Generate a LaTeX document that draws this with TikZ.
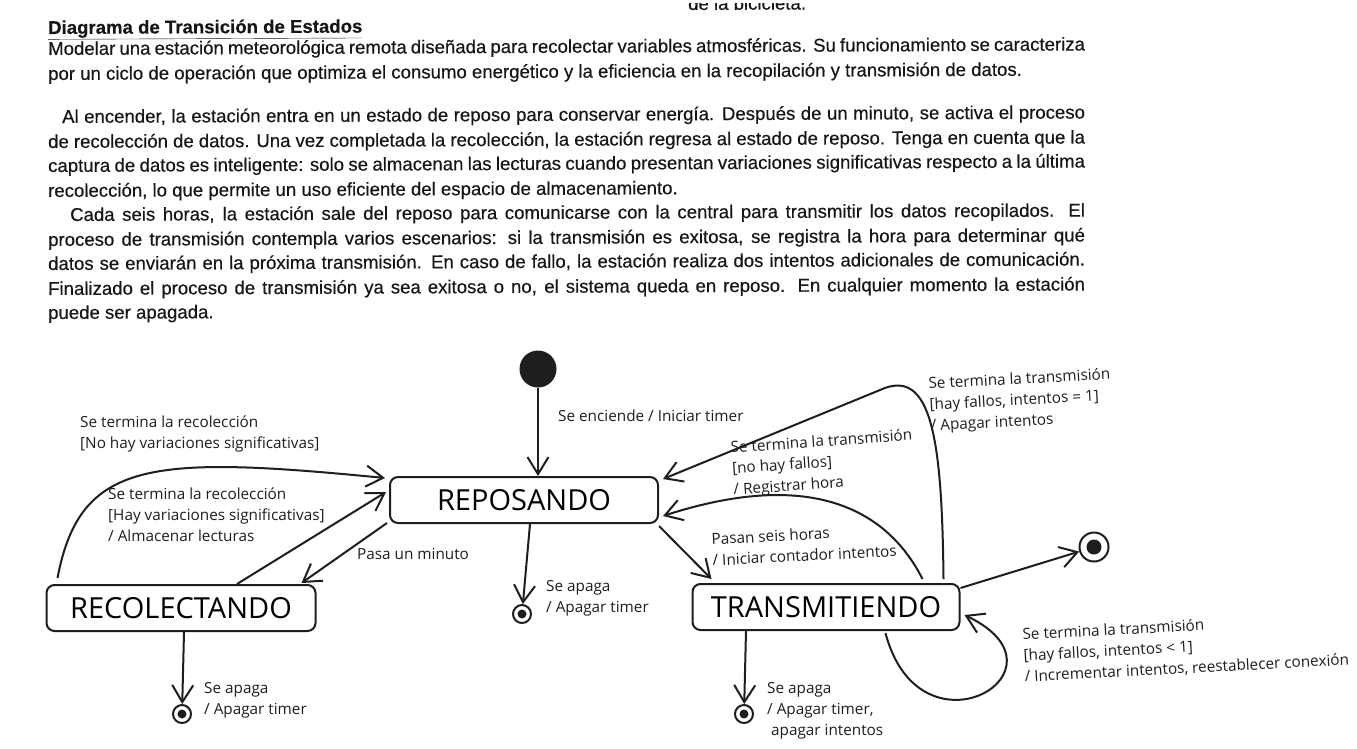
\documentclass[tikz,border=0pt]{standalone}
\usepackage{fontspec}
\setmainfont{Open Sans}
\newfontfamily\scanfont[FakeBold=0.35]{Liberation Sans}
\usetikzlibrary{arrows.meta,positioning,calc}
\definecolor{inkdark}{HTML}{1E1E1E}
\definecolor{scangray}{HTML}{161616}
\newcommand{\fullrow}[2]{\hbox to #1pt{#2}}

\begin{document}
\begin{tikzpicture}[
  x=1pt, y=-1pt,
  font=\fontsize{15.3}{21}\selectfont,
  state/.style={
    draw=inkdark,
    line width=2pt,
    rounded corners=8pt,
    minimum height=46pt,
    inner sep=0pt,
    font=\fontsize{29}{32}\selectfont
  },
  startdot/.style={circle,fill=inkdark,minimum size=37pt,inner sep=0pt},
  enddot/.style={circle,draw=inkdark,line width=2pt,minimum size=18pt,inner sep=0pt,
    path picture={\fill[inkdark] (path picture bounding box.center) circle (4.5pt);}},
  bigenddot/.style={enddot,minimum size=29pt,
    path picture={\fill[inkdark] (path picture bounding box.center) circle (7.5pt);}},
  flow/.style={-{Straight Barb[length=17pt,width=21pt]},draw=inkdark,line width=2pt},
  note/.style={align=left,inner sep=0pt,text=inkdark,anchor=north west},
  scanrow/.style={font=\scanfont\fontsize{18.6}{24}\selectfont,text=scangray,
    inner sep=0pt,anchor=base west,rotate=0.25}
]
  \useasboundingbox (0,0) rectangle (1357,748);
  \fill[white] (0,0) rectangle (1357,748);

  % scanned statement
  \begin{scope}
    \clip (0,3) rectangle (1357,20);
    \node[scanrow] (cut) at (688,10) {de la bicicleta.};
  \end{scope}
  \node[scanrow] (title) at (48,34) {\textbf{\underline{Diagrama de Transición de Estados}}};
  \node[scanrow] (p1a) at (48,55) {\fullrow{1037}{Modelar una estación meteorológica remota diseñada para recolectar variables atmosféricas. Su funcionamiento se caracteriza}};
  \node[scanrow] (p1b) at (48,80) {por un ciclo de operación que optimiza el consumo energético y la eficiencia en la recopilación y transmisión de datos.};
  \node[scanrow] (p2a) at (62,123) {\fullrow{1023}{Al encender, la estación entra en un estado de reposo para conservar energía. Después de un minuto, se activa el proceso}};
  \node[scanrow] (p2b) at (48,148) {\fullrow{1037}{de recolección de datos. Una vez completada la recolección, la estación regresa al estado de reposo. Tenga en cuenta que la}};
  \node[scanrow] (p2c) at (48,172) {\fullrow{1037}{captura de datos es inteligente: solo se almacenan las lecturas cuando presentan variaciones significativas respecto a la última}};
  \node[scanrow] (p2d) at (48,197) {recolección, lo que permite un uso eficiente del espacio de almacenamiento.};
  \node[scanrow] (p3a) at (70,221) {\fullrow{1015}{Cada seis horas, la estación sale del reposo para comunicarse con la central para transmitir los datos recopilados. El}};
  \node[scanrow] (p3b) at (48,246) {\fullrow{1037}{proceso de transmisión contempla varios escenarios: si la transmisión es exitosa, se registra la hora para determinar qué}};
  \node[scanrow] (p3c) at (48,270) {\fullrow{1037}{datos se enviarán en la próxima transmisión. En caso de fallo, la estación realiza dos intentos adicionales de comunicación.}};
  \node[scanrow] (p3d) at (48,295) {\fullrow{1037}{Finalizado el proceso de transmisión ya sea exitosa o no, el sistema queda en reposo. En cualquier momento la estación}};
  \node[scanrow] (p3e) at (48,319) {puede ser apagada.};

  % states
  \node[startdot] (ini) at (538,369) {};
  \node[state,minimum width=268pt] (repo) at (524,500) {REPOSANDO};
  \node[state,minimum width=269pt] (reco) at (181,608) {RECOLECTANDO};
  \node[state,minimum width=267pt] (trans) at (826,607) {TRANSMITIENDO};
  \node[enddot] (finrepo) at (522,614) {};
  \node[enddot] (finreco) at (182,714) {};
  \node[enddot] (fintrans) at (744,714) {};
  \node[bigenddot] (finall) at (1094,547) {};
  \coordinate (peak) at (880,390);

  % labels
  \node[note] (lini) at (558,410) {Se enciende / Iniciar timer};
  \node[note] (lnovar) at (80,416) {Se termina la recolección\\{[No hay variaciones significativas]}};
  \node[note] (lvar) at (108,488) {Se termina la recolección\\{[Hay variaciones significativas]}\\/ Almacenar lecturas};
  \node[note] (lmin) at (357,548) {Pasa un minuto};
  \node[note] (loffrepo) at (546,580) {Se apaga\\/ Apagar timer};
  \node[note] (loffreco) at (204,682) {Se apaga\\/ Apagar timer};
  \node[note] (lofftrans) at (767,682) {Se apaga\\/ Apagar timer,\\\ apagar intentos};
  \node[note,rotate=3] (lsix) at (711,533) {Pasan seis horas\\/ Iniciar contador intentos};
  \node[note,rotate=4] (lok) at (730,441) {Se termina la transmisión\\{[no hay fallos]}\\/ Registrar hora};
  \node[note,rotate=3] (lfailone) at (928,377) {Se termina la transmisión\\{[hay fallos, intentos = 1]}\\/ Apagar intentos};
  \node[note,rotate=3] (lretry) at (1022,628) {Se termina la transmisión\\{[hay fallos, intentos < 1]}\\/ Incrementar intentos, reestablecer conexión};

  % transitions
  \draw[flow] (ini) -- (ini |- repo.north);
  \draw[flow] ($(repo.south)+(6,0)$) -- (finrepo);
  \draw[flow] ($(reco.south)+(3,0)$) -- (finreco);
  \draw[flow] ($(trans.south)+(-80,0)$) -- (fintrans);
  \draw[flow] ($(trans.east)+(0,-19)$) -- (finall);
  \draw[flow] ($(repo.south west)+(-2,-1)$) -- ($(reco.north east)+(-15,-1)$);
  \draw[flow] ($(reco.north)+(56,0)$) -- ($(repo.west)+(-3,-8)$);
  \draw[flow] ($(reco.north west)+(12,-6)$) .. controls (80,460) and (150,455) .. ($(repo.north west)+(-4,2)$);
  \draw[flow] ($(repo.south east)+(0,2)$) -- ($(trans.north west)+(20,-4)$);
  \draw[flow] ($(trans.north east)+(-38,-4)$) .. controls (885,505) and (805,470) .. ($(repo.east)+(4,16)$);
  \draw[flow] ($(trans.north east)+(-17,-4)$) .. controls (942,440) and (932,366) .. (peak) -- ($(repo.north east)+(4,3)$);
  \draw[flow] ($(trans.south east)+(-75,2)$) .. controls (920,765) and (1080,670) .. ($(trans.east)+(4,8)$);
\end{tikzpicture}
\end{document}
